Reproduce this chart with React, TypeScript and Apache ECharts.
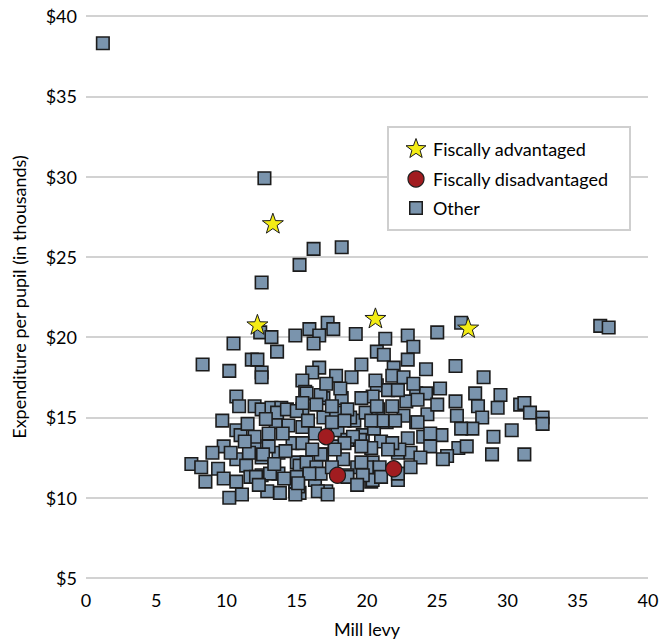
import { useEffect, useRef } from "react";
import * as echarts from "echarts";

// Mill levy (x) vs. expenditure per pupil in $ thousands (y)
const otherPoints: [number, number][] = [
  [1.2, 38.3], [12.7, 29.9], [12.5, 23.4], [15.2, 24.5], [16.2, 25.5], [18.2, 25.6], [36.6, 20.7], [37.2, 20.6],
  [12.4, 20.3], [13.2, 20.0], [14.9, 20.1], [10.5, 19.6], [13.6, 19.1], [11.8, 18.6], [12.2, 18.6], [8.3, 18.3],
  [10.2, 17.9], [12.5, 17.8], [12.5, 17.5], [10.7, 16.3], [10.9, 15.7], [12.0, 15.7], [12.5, 15.5], [13.2, 15.6],
  [13.9, 15.6], [9.7, 14.8], [10.7, 14.2], [11.0, 13.9], [12.0, 13.2], [9.8, 13.2], [9.0, 12.8], [10.7, 12.4],
  [11.4, 12.0], [7.5, 12.1], [8.2, 11.9], [9.4, 11.8], [8.5, 11.0], [9.8, 11.2], [10.7, 11.0], [11.7, 11.3],
  [12.5, 11.4], [13.7, 11.5], [10.2, 10.0], [11.1, 10.2], [13.8, 10.3], [14.9, 10.4], [13.7, 12.8], [14.4, 14.5],
  [13.5, 14.7], [15.0, 12.2], [14.9, 11.0], [12.5, 12.5], [13.0, 13.2], [14.7, 13.4], [12.0, 13.8],
  [17.2, 20.9], [17.6, 20.5], [15.9, 20.5], [16.6, 20.1], [16.2, 19.6], [19.2, 20.2], [21.3, 19.9], [22.9, 20.1],
  [23.3, 19.4], [20.7, 19.1], [21.2, 18.9], [22.9, 18.6], [19.6, 18.3], [21.9, 18.1], [16.6, 18.1], [16.1, 17.8],
  [17.8, 17.6], [18.9, 17.5], [21.8, 17.6], [22.6, 17.5], [15.4, 17.3], [20.7, 17.0], [21.5, 16.7], [20.4, 16.3],
  [15.6, 16.6], [16.9, 16.2], [18.2, 16.2], [19.6, 16.2], [23.5, 16.5], [22.8, 16.0], [15.4, 15.5], [16.9, 15.0],
  [19.1, 14.8], [19.9, 15.3], [20.8, 15.5], [22.6, 15.1], [23.5, 14.7], [15.4, 14.4], [16.3, 14.0], [17.9, 14.2],
  [19.7, 13.9], [20.5, 14.3], [21.0, 13.5], [22.9, 13.7], [15.4, 13.4], [16.8, 12.7], [18.3, 12.4], [19.3, 11.9],
  [20.4, 12.2], [22.2, 12.8], [23.1, 12.8], [15.2, 12.0], [16.3, 11.1], [17.1, 10.4], [15.2, 10.3], [20.3, 11.0],
  [22.2, 11.1], [18.6, 11.4], [15.0, 11.3],
  [26.7, 20.9], [25.0, 20.3], [26.3, 18.2], [24.2, 18.0], [28.3, 17.5], [25.2, 16.8], [27.7, 16.5], [29.5, 16.4],
  [24.2, 16.5], [26.3, 16.0], [27.9, 15.7], [29.3, 15.6], [30.9, 15.8], [31.2, 15.9], [31.6, 15.3], [24.3, 15.2],
  [26.4, 15.1], [28.2, 15.0], [32.5, 15.0], [32.5, 14.6], [23.6, 14.7], [27.5, 14.3], [26.7, 14.3], [25.3, 13.9],
  [29.0, 13.8], [30.3, 14.2], [24.0, 13.8], [24.5, 13.2], [26.5, 13.1], [27.1, 13.2], [28.9, 12.7], [31.2, 12.7],
  [25.7, 12.6], [25.4, 12.4], [23.8, 12.5],
  [12.1, 11.3], [13.1, 11.5], [12.6, 12.7], [13.0, 14.0], [13.6, 15.3], [14.3, 15.5], [15.0, 15.4], [15.7, 16.5],
  [16.7, 16.4], [17.1, 17.1], [18.1, 16.8], [17.8, 15.3], [18.8, 15.0], [18.6, 13.6], [19.5, 13.6], [20.3, 13.1],
  [17.7, 13.2], [16.7, 12.7], [15.7, 12.2], [16.4, 11.9], [20.0, 11.9], [18.6, 11.3], [16.7, 11.5], [15.1, 10.7],
  [16.5, 10.4], [14.9, 10.2], [17.2, 10.2], [12.9, 10.4],
  [20.6, 17.3], [23.3, 17.1], [22.2, 16.7], [23.6, 16.1], [25.0, 15.8], [20.7, 15.7], [21.4, 14.7], [24.5, 14.0],
  [22.3, 13.0], [23.1, 11.9], [20.4, 11.1], [22.2, 11.5],
  [15.4, 15.9], [16.4, 15.8], [17.5, 15.7], [18.6, 15.5], [21.8, 15.7], [22.0, 14.8], [21.1, 14.8], [20.3, 14.8],
  [18.4, 14.8], [17.5, 14.7], [15.8, 14.8], [19.0, 13.8], [18.4, 13.4], [17.7, 13.0], [19.6, 13.2], [21.8, 13.4],
  [21.5, 13.0], [16.1, 13.0], [17.5, 11.9], [19.6, 12.2], [20.9, 11.9], [19.7, 11.4], [21.0, 11.3], [15.9, 11.5],
  [15.1, 10.9], [19.3, 10.8],
  [11.5, 14.6], [12.8, 14.9], [11.6, 12.8], [13.4, 12.1], [14.2, 12.9], [12.3, 10.8], [14.1, 11.2], [10.3, 12.8],
  [11.3, 13.5], [14.0, 14.0],
];

const advantagedPoints: [number, number][] = [
  [12.2, 20.8], [13.3, 27.1], [20.6, 21.2], [27.2, 20.6],
];

const disadvantagedPoints: [number, number][] = [
  [17.1, 13.8], [17.9, 11.4], [21.9, 11.8],
];

const seriesNames = ["Fiscally advantaged", "Fiscally disadvantaged", "Other"];

const xAxisRange = { min: 0, max: 40, interval: 5 };
const yAxisRange = { min: 5, max: 40, interval: 5 };

const FONT = "Lato, 'Noto Sans', sans-serif";
const TEXT_COLOR = "#000";
const STAR_FILL = "#f3ec14";
const CIRCLE_FILL = "#a11c20";
const SQUARE_FILL = "#7a94ad";
const EDGE = "#1c1c1c";

const STAR_PATH =
  "path://M50,0L61.76,33.82L97.55,34.55L69.02,56.18L79.39,90.45L50,70L20.61,90.45L30.98,56.18L2.45,34.55L38.24,33.82Z";

// five-pointed star as polygon points around a centre
function starPoints(cx: number, cy: number, rOuter: number, rInner: number): number[][] {
  const pts: number[][] = [];
  for (let i = 0; i < 10; i++) {
    const r = i % 2 === 0 ? rOuter : rInner;
    const a = -Math.PI / 2 + (i * Math.PI) / 5;
    pts.push([cx + r * Math.cos(a), cy + r * Math.sin(a)]);
  }
  return pts;
}

export default function App() {
  const ref = useRef<HTMLDivElement>(null);

  useEffect(() => {
    if (!ref.current) return;
    const chart = echarts.init(ref.current, undefined, { renderer: "svg" });

    const lx = 388;
    const ly = 127;
    const iconX = 416;
    const textX = 433;
    const rowY = [149, 179, 208];
    const Z = 100;

    chart.setOption({
      animation: false,
      backgroundColor: "#fff",
      textStyle: { fontFamily: FONT },
      grid: { left: 86, right: 23, top: 16, bottom: 65, containLabel: false },
      xAxis: {
        type: "value",
        ...xAxisRange,
        name: "Mill levy",
        nameLocation: "middle",
        nameGap: 42,
        nameTextStyle: { fontFamily: FONT, fontSize: 18, color: TEXT_COLOR },
        axisLine: { show: false },
        axisTick: { show: false },
        splitLine: { show: false },
        axisLabel: { fontFamily: FONT, fontSize: 18, color: TEXT_COLOR, margin: 13 },
      },
      yAxis: {
        type: "value",
        ...yAxisRange,
        name: "Expenditure per pupil (in thousands)",
        nameLocation: "middle",
        nameGap: 58,
        nameTextStyle: { fontFamily: FONT, fontSize: 18, color: TEXT_COLOR },
        axisLine: { show: false },
        axisTick: { show: false },
        splitLine: { show: true, lineStyle: { color: "#d2d2d2", width: 2 } },
        axisLabel: {
          fontFamily: FONT,
          fontSize: 18,
          color: TEXT_COLOR,
          margin: 9,
          formatter: (v: number) => "$" + v,
        },
      },
      series: [
        {
          name: seriesNames[2],
          type: "scatter",
          data: otherPoints,
          symbol: "rect",
          symbolSize: 12.5,
          itemStyle: { color: SQUARE_FILL, borderColor: EDGE, borderWidth: 1.6, opacity: 1 },
          z: 2,
        },
        {
          name: seriesNames[1],
          type: "scatter",
          data: disadvantagedPoints,
          symbol: "circle",
          symbolSize: 16,
          itemStyle: { color: CIRCLE_FILL, borderColor: EDGE, borderWidth: 1.2, opacity: 1 },
          z: 3,
        },
        {
          name: seriesNames[0],
          type: "scatter",
          data: advantagedPoints,
          symbol: STAR_PATH,
          symbolKeepAspect: true,
          symbolSize: 21,
          itemStyle: { color: STAR_FILL, borderColor: EDGE, borderWidth: 1, opacity: 1 },
          z: 4,
        },
      ],
      graphic: [
        {
          type: "rect",
          z: Z,
          shape: { x: lx, y: ly, width: 242, height: 103 },
          style: { fill: "#fff", stroke: "#cfcfcf", lineWidth: 2 },
        },
        {
          type: "polygon",
          z: Z + 1,
          shape: { points: starPoints(iconX, rowY[0], 10.5, 4.3) },
          style: { fill: STAR_FILL, stroke: EDGE, lineWidth: 1 },
        },
        {
          type: "circle",
          z: Z + 1,
          shape: { cx: iconX, cy: rowY[1], r: 8 },
          style: { fill: CIRCLE_FILL, stroke: EDGE, lineWidth: 1.2 },
        },
        {
          type: "rect",
          z: Z + 1,
          shape: { x: iconX - 6.25, y: rowY[2] - 6.25, width: 12.5, height: 12.5 },
          style: { fill: SQUARE_FILL, stroke: EDGE, lineWidth: 1.5 },
        },
        ...seriesNames.map((name, i) => ({
          type: "text",
          z: Z + 1,
          style: {
            x: textX,
            y: rowY[i],
            text: name,
            fill: TEXT_COLOR,
            font: `18px ${FONT}`,
            verticalAlign: "middle",
            align: "left",
          },
        })),
      ],
    });

    return () => chart.dispose();
  }, []);

  return (
    <div
      ref={ref}
      style={{ position: "fixed", left: 0, top: 0, width: 671, height: 643, background: "#fff" }}
    />
  );
}
